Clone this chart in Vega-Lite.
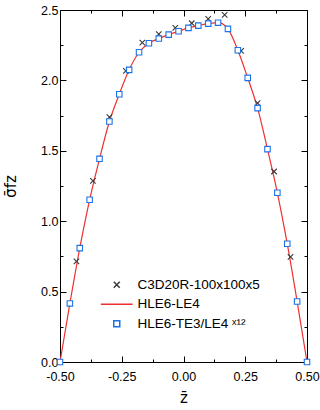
{
  "$schema": "https://vega.github.io/schema/vega-lite/v6.json",
  "width": 247,
  "height": 352,
  "autosize": {"type": "none"},
  "padding": {"left": 60, "top": 10, "right": 13, "bottom": 48},
  "background": "white",
  "config": {
    "view": {"stroke": null},
    "font": "Liberation Sans",
    "axis": {
      "grid": false,
      "domainColor": "black",
      "domainWidth": 1,
      "tickColor": "black",
      "tickWidth": 1,
      "labelColor": "black",
      "labelFont": "Liberation Sans",
      "labelFontSize": 12.5,
      "labelFlush": false,
      "labelOverlap": false,
      "titleColor": "black",
      "titleFont": "DejaVu Sans",
      "titleFontWeight": "normal",
      "titleFontSize": 15
    }
  },
  "data": {
    "values": [
      {"series": "HLE6-LE4", "x": -0.5, "y": 0.0},
      {"series": "HLE6-LE4", "x": -0.46, "y": 0.416},
      {"series": "HLE6-LE4", "x": -0.42, "y": 0.809},
      {"series": "HLE6-LE4", "x": -0.38, "y": 1.152},
      {"series": "HLE6-LE4", "x": -0.34, "y": 1.443},
      {"series": "HLE6-LE4", "x": -0.3, "y": 1.708},
      {"series": "HLE6-LE4", "x": -0.26, "y": 1.902},
      {"series": "HLE6-LE4", "x": -0.22, "y": 2.075},
      {"series": "HLE6-LE4", "x": -0.18, "y": 2.2},
      {"series": "HLE6-LE4", "x": -0.14, "y": 2.264},
      {"series": "HLE6-LE4", "x": -0.1, "y": 2.297},
      {"series": "HLE6-LE4", "x": -0.06, "y": 2.325},
      {"series": "HLE6-LE4", "x": -0.02, "y": 2.349},
      {"series": "HLE6-LE4", "x": 0.02, "y": 2.373},
      {"series": "HLE6-LE4", "x": 0.06, "y": 2.389},
      {"series": "HLE6-LE4", "x": 0.1, "y": 2.403},
      {"series": "HLE6-LE4", "x": 0.14, "y": 2.411},
      {"series": "HLE6-LE4", "x": 0.155, "y": 2.405},
      {"series": "HLE6-LE4", "x": 0.168, "y": 2.388},
      {"series": "HLE6-LE4", "x": 0.18, "y": 2.366},
      {"series": "HLE6-LE4", "x": 0.22, "y": 2.214},
      {"series": "HLE6-LE4", "x": 0.26, "y": 2.018},
      {"series": "HLE6-LE4", "x": 0.3, "y": 1.803},
      {"series": "HLE6-LE4", "x": 0.34, "y": 1.512},
      {"series": "HLE6-LE4", "x": 0.38, "y": 1.202},
      {"series": "HLE6-LE4", "x": 0.42, "y": 0.84},
      {"series": "HLE6-LE4", "x": 0.46, "y": 0.43},
      {"series": "HLE6-LE4", "x": 0.5, "y": 0.0},
      {"series": "C3D20R-100x100x5", "x": -0.4333, "y": 0.714},
      {"series": "C3D20R-100x100x5", "x": -0.3667, "y": 1.287},
      {"series": "C3D20R-100x100x5", "x": -0.3, "y": 1.739},
      {"series": "C3D20R-100x100x5", "x": -0.2333, "y": 2.067},
      {"series": "C3D20R-100x100x5", "x": -0.1667, "y": 2.268},
      {"series": "C3D20R-100x100x5", "x": -0.1, "y": 2.329},
      {"series": "C3D20R-100x100x5", "x": -0.0333, "y": 2.373},
      {"series": "C3D20R-100x100x5", "x": 0.0333, "y": 2.406},
      {"series": "C3D20R-100x100x5", "x": 0.1, "y": 2.437},
      {"series": "C3D20R-100x100x5", "x": 0.1667, "y": 2.465},
      {"series": "C3D20R-100x100x5", "x": 0.2333, "y": 2.209},
      {"series": "C3D20R-100x100x5", "x": 0.3, "y": 1.838},
      {"series": "C3D20R-100x100x5", "x": 0.3667, "y": 1.353},
      {"series": "C3D20R-100x100x5", "x": 0.4333, "y": 0.747},
      {"series": "HLE6-TE3/LE4 ˣ¹²", "x": -0.5, "y": 0.0},
      {"series": "HLE6-TE3/LE4 ˣ¹²", "x": -0.46, "y": 0.416},
      {"series": "HLE6-TE3/LE4 ˣ¹²", "x": -0.42, "y": 0.809},
      {"series": "HLE6-TE3/LE4 ˣ¹²", "x": -0.38, "y": 1.152},
      {"series": "HLE6-TE3/LE4 ˣ¹²", "x": -0.34, "y": 1.443},
      {"series": "HLE6-TE3/LE4 ˣ¹²", "x": -0.3, "y": 1.708},
      {"series": "HLE6-TE3/LE4 ˣ¹²", "x": -0.26, "y": 1.902},
      {"series": "HLE6-TE3/LE4 ˣ¹²", "x": -0.22, "y": 2.075},
      {"series": "HLE6-TE3/LE4 ˣ¹²", "x": -0.18, "y": 2.2},
      {"series": "HLE6-TE3/LE4 ˣ¹²", "x": -0.14, "y": 2.264},
      {"series": "HLE6-TE3/LE4 ˣ¹²", "x": -0.1, "y": 2.297},
      {"series": "HLE6-TE3/LE4 ˣ¹²", "x": -0.06, "y": 2.325},
      {"series": "HLE6-TE3/LE4 ˣ¹²", "x": -0.02, "y": 2.349},
      {"series": "HLE6-TE3/LE4 ˣ¹²", "x": 0.02, "y": 2.373},
      {"series": "HLE6-TE3/LE4 ˣ¹²", "x": 0.06, "y": 2.389},
      {"series": "HLE6-TE3/LE4 ˣ¹²", "x": 0.1, "y": 2.403},
      {"series": "HLE6-TE3/LE4 ˣ¹²", "x": 0.14, "y": 2.41},
      {"series": "HLE6-TE3/LE4 ˣ¹²", "x": 0.18, "y": 2.366},
      {"series": "HLE6-TE3/LE4 ˣ¹²", "x": 0.22, "y": 2.214},
      {"series": "HLE6-TE3/LE4 ˣ¹²", "x": 0.26, "y": 2.018},
      {"series": "HLE6-TE3/LE4 ˣ¹²", "x": 0.3, "y": 1.803},
      {"series": "HLE6-TE3/LE4 ˣ¹²", "x": 0.34, "y": 1.512},
      {"series": "HLE6-TE3/LE4 ˣ¹²", "x": 0.38, "y": 1.202},
      {"series": "HLE6-TE3/LE4 ˣ¹²", "x": 0.42, "y": 0.84},
      {"series": "HLE6-TE3/LE4 ˣ¹²", "x": 0.46, "y": 0.43},
      {"series": "HLE6-TE3/LE4 ˣ¹²", "x": 0.5, "y": 0.0}
    ]
  },
  "layer": [
    {
      "transform": [{"filter": "datum.series === 'HLE6-LE4'"}],
      "mark": {"type": "line", "strokeWidth": 1.2, "interpolate": "monotone", "clip": false},
      "encoding": {
        "x": {
          "field": "x", "type": "quantitative",
          "scale": {"domain": [-0.5, 0.5], "nice": false, "zero": false},
          "axis": {
            "orient": "bottom",
            "title": "z̄",
            "values": [-0.5, -0.375, -0.25, -0.125, 0, 0.125, 0.25, 0.375, 0.5],
            "labelExpr": "abs(datum.value*4 - round(datum.value*4)) < 1e-6 ? (datum.value < 0 ? '-' : '') + format(abs(datum.value), '.2f') : ''",
            "tickSize": {"condition": {"test": "abs(datum.value*4 - round(datum.value*4)) < 1e-6", "value": -6}, "value": -3},
            "labelPadding": 14,
            "titlePadding": 5
          }
        },
        "y": {
          "field": "y", "type": "quantitative",
          "scale": {"domain": [0, 2.5], "nice": false},
          "axis": {
            "orient": "left",
            "title": "σ̄fz",
            "values": [0, 0.25, 0.5, 0.75, 1, 1.25, 1.5, 1.75, 2, 2.25, 2.5],
            "labelExpr": "abs(datum.value*2 - round(datum.value*2)) < 1e-6 ? format(datum.value, '.1f') : ''",
            "tickSize": {"condition": {"test": "abs(datum.value*2 - round(datum.value*2)) < 1e-6", "value": -6}, "value": -3},
            "labelPadding": 8,
            "titlePadding": 22
          }
        },
        "stroke": {
          "field": "series", "type": "nominal",
          "scale": {
            "domain": ["C3D20R-100x100x5", "HLE6-LE4", "HLE6-TE3/LE4 ˣ¹²"],
            "range": ["#3a3a3a", "#ee3030", "#1a73e8"]
          },
          "legend": {
            "title": null,
            "orient": "none",
            "legendX": 50,
            "legendY": 268,
            "labelFontSize": 13.5,
            "labelFont": "Liberation Sans",
            "labelColor": "black",
            "symbolSize": 36,
            "rowPadding": 4.5,
            "labelOffset": 14,
            "padding": 0
          }
        }
      }
    },
    {
      "transform": [{"filter": "datum.series !== 'HLE6-LE4'"}],
      "mark": {"type": "point", "filled": false, "fill": "white", "strokeWidth": 1.1, "size": 30, "opacity": 1, "clip": false},
      "encoding": {
        "x": {
          "field": "x", "type": "quantitative",
          "axis": {
            "orient": "top",
            "title": null,
            "labels": false,
            "values": [-0.5, -0.375, -0.25, -0.125, 0, 0.125, 0.25, 0.375, 0.5],
            "tickSize": {"condition": {"test": "abs(datum.value*4 - round(datum.value*4)) < 1e-6", "value": -6}, "value": -3}
          }
        },
        "y": {
          "field": "y", "type": "quantitative",
          "axis": {
            "orient": "right",
            "title": null,
            "labels": false,
            "values": [0, 0.25, 0.5, 0.75, 1, 1.25, 1.5, 1.75, 2, 2.25, 2.5],
            "tickSize": {"condition": {"test": "abs(datum.value*2 - round(datum.value*2)) < 1e-6", "value": -6}, "value": -3}
          }
        },
        "stroke": {"field": "series", "type": "nominal"},
        "shape": {
          "field": "series", "type": "nominal",
          "scale": {
            "domain": ["C3D20R-100x100x5", "HLE6-LE4", "HLE6-TE3/LE4 ˣ¹²"],
            "range": ["M-1,-1L1,1M1,-1L-1,1", "M-5.3,0L5.3,0", "square"]
          },
          "legend": {"title": null}
        }
      }
    }
  ],
  "resolve": {"axis": {"x": "independent", "y": "independent"}}
}
